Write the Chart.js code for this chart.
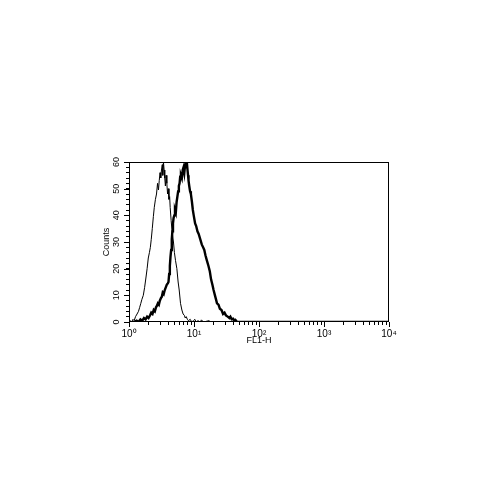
<!DOCTYPE html>
<html>
<head>
<meta charset="utf-8">
<script src="https://cdn.jsdelivr.net/npm/chart.js@4"></script>
<style>
  html, body { margin: 0; padding: 0; background: #fff; }
</style>
</head>
<body>
<canvas id="histChart" width="500" height="500"></canvas>
<script>
// FL1-H histogram, control (thin) vs stained (thick)
const controlFL1 = [1.00, 1.05, 1.10, 1.15, 1.20, 1.26, 1.33, 1.40, 1.46, 1.52, 1.58, 1.66, 1.74, 1.82, 1.90, 1.98,
  2.06, 2.13, 2.20, 2.28, 2.37, 2.45, 2.55, 2.65, 2.75, 2.84, 2.92, 3.00, 3.08, 3.16, 3.25, 3.31, 3.39, 3.47,
  3.55, 3.63, 3.72, 3.82, 3.92, 4.02, 4.12, 4.22, 4.30, 4.45, 4.60, 4.83, 5.00, 5.20, 5.45, 5.70, 5.92, 6.20,
  6.51, 6.80, 7.10, 7.33, 7.60, 7.90, 8.20, 8.75, 9.20, 9.80, 10.3, 10.8, 11.5, 12.5, 13.0, 14.0, 17.0, 18.0, 10000];
const controlCounts = [0, 0.5, 0, 1, 0.5, 2, 3, 4, 5.5, 7, 8.5, 10, 13, 16.5, 20, 24,
  26, 28, 31, 35, 39.5, 43, 46, 48, 52, 49.5, 53, 56, 54, 57, 59, 55, 60, 57,
  54, 51, 55, 52, 48, 50, 46, 47, 43, 38, 34, 30, 26, 23, 20, 15, 12, 7,
  4.5, 3, 2.5, 1.5, 2, 1, 0.5, 1, 0, 0.5, 1, 0, 0.5, 0, 0.8, 0, 0.5, 0, 0];

const stainedFL1 = [1.20, 1.31, 1.40, 1.50, 1.60, 1.70, 1.80, 1.90, 2.00, 2.11, 2.20, 2.30, 2.40, 2.50, 2.60, 2.68,
  2.78, 2.88, 2.98, 3.10, 3.20, 3.30, 3.42, 3.55, 3.68, 3.82, 3.95, 4.05, 4.15, 4.25, 4.35, 4.45, 4.55, 4.65,
  4.75, 4.85, 4.98, 5.10, 5.25, 5.40, 5.55, 5.70, 5.85, 6.00, 6.13, 6.30, 6.50, 6.70, 6.90, 7.10, 7.30, 7.45,
  7.59, 7.75, 7.95, 8.10, 8.24, 8.45, 8.70, 8.95, 9.30, 9.60, 9.90, 10.4, 10.8, 11.3, 11.8, 12.5, 13.2, 13.8,
  14.4, 15.0, 15.8, 16.7, 17.5, 18.3, 19.2, 20.0, 21.0, 21.8, 22.6, 23.8, 25.0, 26.5, 28.0, 29.5, 31.0, 33.0,
  35.0, 36.3, 38.0, 40.0, 42.0, 43.4, 46.0, 10000];
const stainedCounts = [0, 0.5, 0, 1, 0.5, 1.5, 1, 2, 1.5, 2.5, 3.5, 3, 4.5, 4, 5.5, 6,
  7, 6.5, 8, 9, 9.5, 11, 10.5, 12, 13, 14, 14.5, 15, 18, 21, 24.5, 27, 31, 34,
  37, 39, 40, 42, 41, 45, 47, 49, 51, 52, 54.5, 55, 54, 57, 58, 56, 59, 60,
  58, 60, 57, 55, 53, 51, 49, 48, 45, 42, 40, 37, 36, 34, 33, 31, 29, 28,
  27, 25, 23, 21, 19, 16, 14, 12, 10, 8.5, 7, 6.5, 5, 4.5, 3, 3.5, 2.5, 2,
  1.5, 2, 1, 1.2, 0.5, 0.8, 0, 0];

const decades = [1, 10, 100, 1000, 10000];
const decadeLabels = ['10\u2070', '10\u00B9', '10\u00B2', '10\u00B3', '10\u2074'];
const countTicks = [0, 10, 20, 30, 40, 50, 60];

const xTickValues = decades.slice(0, -1)
  .flatMap(d => [1, 2, 3, 4, 5, 6, 7, 8, 9].map(m => d * m))
  .concat([decades[decades.length - 1]]);

const fontFamily = "'Liberation Sans', Arial, sans-serif";
const font = { family: fontFamily, size: 9 };

// box around the plot, longer ticks at labelled values,
// and the count labels turned upright (chart.js won't rotate y tick labels)
const framePlugin = {
  id: 'frame',
  afterDraw(chart) {
    const { ctx, chartArea: a, scales } = chart;
    ctx.save();
    ctx.strokeStyle = '#000';
    ctx.lineWidth = 1;
    ctx.strokeRect(a.left + 0.5, a.top + 0.5, a.right - a.left - 1, a.bottom - a.top - 1);
    ctx.beginPath();
    decades.forEach(v => {
      const x = Math.round(scales.x.getPixelForValue(v)) + 0.5;
      ctx.moveTo(x, a.bottom);
      ctx.lineTo(x, a.bottom + 5);
    });
    countTicks.forEach(v => {
      const y = Math.round(scales.y.getPixelForValue(v)) + 0.5;
      ctx.moveTo(a.left, y);
      ctx.lineTo(a.left - 5, y);
    });
    ctx.stroke();

    ctx.fillStyle = '#000';
    ctx.font = '9px ' + fontFamily;
    ctx.textAlign = 'center';
    ctx.textBaseline = 'middle';
    countTicks.forEach(v => {
      ctx.save();
      ctx.translate(a.left - 12, scales.y.getPixelForValue(v));
      ctx.rotate(-Math.PI / 2);
      ctx.fillText(String(v), 0, 0);
      ctx.restore();
    });
    ctx.restore();
  }
};

new Chart(document.getElementById('histChart'), {
  type: 'line',
  data: {
    datasets: [{
      label: 'control',
      data: controlFL1.map((x, i) => ({ x: x, y: controlCounts[i] })),
      borderColor: '#000',
      borderWidth: 1,
      pointRadius: 0,
      tension: 0,
      fill: false
    }, {
      label: 'stained',
      data: stainedFL1.map((x, i) => ({ x: x, y: stainedCounts[i] })),
      borderColor: '#000',
      borderWidth: 2.4,
      pointRadius: 0,
      tension: 0,
      fill: false
    }]
  },
  options: {
    responsive: false,
    animation: false,
    devicePixelRatio: 1,
    layout: { padding: { left: 101, top: 162, right: 111, bottom: 154 } },
    plugins: { legend: { display: false }, tooltip: { enabled: false } },
    scales: {
      x: {
        type: 'logarithmic',
        min: 1,
        max: 10000,
        afterBuildTicks: s => { s.ticks = xTickValues.map(v => ({ value: v })); },
        afterFit: s => { s.height = 24; },
        border: { display: false },
        grid: { drawOnChartArea: false, tickLength: 3, tickColor: '#000' },
        ticks: {
          autoSkip: false,
          minRotation: 0,
          maxRotation: 0,
          padding: 3,
          color: '#000',
          font: { family: fontFamily, size: 10 },
          callback: v => {
            const i = decades.indexOf(v);
            return i >= 0 ? decadeLabels[i] : '';
          }
        },
        title: { display: true, text: 'FL1-H', color: '#000', font: font, padding: 0 }
      },
      y: {
        min: 0,
        max: 60,
        afterFit: s => { s.width = 28; },
        border: { display: false },
        grid: { drawOnChartArea: false, tickLength: 3, tickColor: '#000' },
        ticks: {
          stepSize: 2,
          autoSkip: false,
          color: '#000',
          font: font,
          callback: () => ''
        },
        title: { display: true, text: 'Counts', color: '#000', font: font, padding: 0 }
      }
    }
  },
  plugins: [framePlugin]
});
</script>
</body>
</html>
